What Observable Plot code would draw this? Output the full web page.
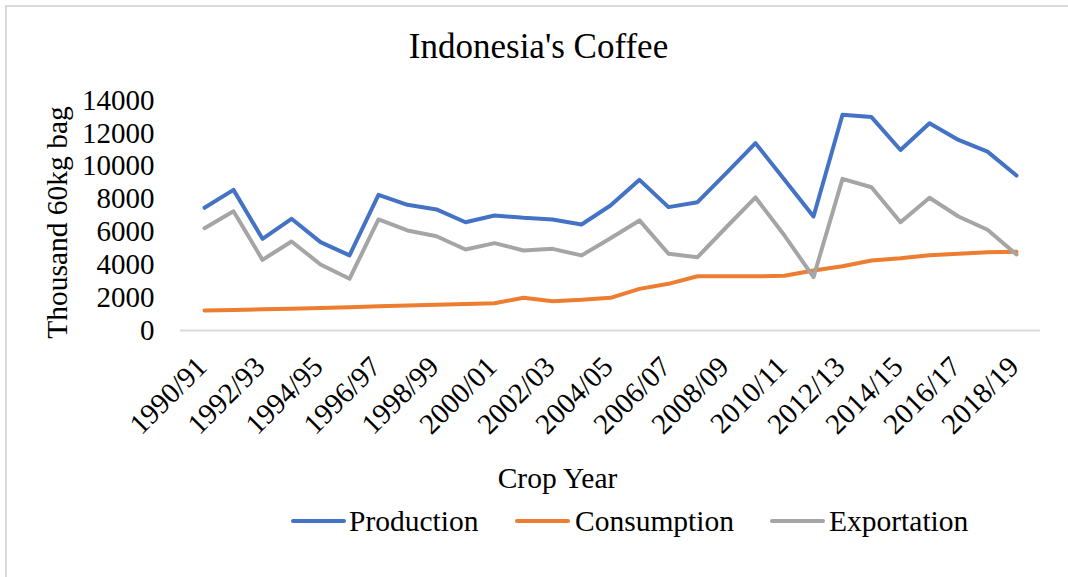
<!DOCTYPE html>
<html>
<head>
<meta charset="utf-8">
<script src="https://cdn.jsdelivr.net/npm/d3@7"></script>
<script src="https://cdn.jsdelivr.net/npm/@observablehq/plot@0.6"></script>
<style>
  html, body { margin: 0; padding: 0; background: #fff; }
  body { width: 1068px; height: 577px; overflow: hidden; position: relative; font-family: "Liberation Serif", "Times New Roman", serif; color: #000; }
  #frame { position: absolute; left: 5px; top: 5px; width: 1200px; height: 700px; border: 2px solid #d9d9d9; box-sizing: border-box; }
  #title { position: absolute; left: 0; top: 29px; width: 1077px; text-align: center; font-size: 35px; line-height: 35px; }
  #chart { position: absolute; left: 0; top: 80px; }
  .sw { position: absolute; height: 4px; border-radius: 2px; width: 55px; top: 519px; }
  .lt { position: absolute; top: 507px; font-size: 29.5px; line-height: 29.5px; white-space: nowrap; }
</style>
</head>
<body>
<div id="frame"></div>
<div id="title">Indonesia's Coffee</div>
<div id="chart"></div>
<div id="legend"></div>
<script>
const categories = ["1990/91","1991/92","1992/93","1993/94","1994/95","1995/96","1996/97","1997/98","1998/99","1999/00",
  "2000/01","2001/02","2002/03","2003/04","2004/05","2005/06","2006/07","2007/08","2008/09","2009/10",
  "2010/11","2011/12","2012/13","2013/14","2014/15","2015/16","2016/17","2017/18","2018/19"];
const production = [7470, 8560, 5580, 6800, 5380, 4570, 8260, 7650, 7370, 6590,
  7000, 6860, 6760, 6450, 7610, 9170, 7510, 7810, 9600, 11400,
  9180, 6940, 13130, 12990, 10990, 12620, 11600, 10890, 9430];
const consumption = [1215, 1250, 1290, 1330, 1370, 1420, 1480, 1520, 1560, 1610,
  1660, 1990, 1785, 1865, 1990, 2535, 2840, 3300, 3300, 3300,
  3330, 3650, 3915, 4260, 4400, 4585, 4665, 4765, 4790];
const exportation = [6230, 7260, 4300, 5420, 4020, 3150, 6760, 6090, 5740, 4930,
  5320, 4870, 4970, 4570, 5620, 6700, 4670, 4460, 6300, 8100,
  5780, 3250, 9230, 8720, 6590, 8080, 6940, 6130, 4630];
const seriesNames = ["Production", "Consumption", "Exportation"];
const seriesColors = ["#4472C4", "#ED7D31", "#A5A5A5"];
const tickLabels = ["1990/91","1992/93","1994/95","1996/97","1998/99","2000/01","2002/03","2004/05",
  "2006/07","2008/09","2010/11","2012/13","2014/15","2016/17","2018/19"];
const yTicks = [0, 2000, 4000, 6000, 8000, 10000, 12000, 14000];

const seriesValues = [production, consumption, exportation];
const data = [];
seriesNames.forEach((s, i) => {
  categories.forEach((c, j) => data.push({series: s, cat: c, value: seriesValues[i][j]}));
});

const chart = Plot.plot({
  width: 1068,
  height: 420,
  marginTop: 20,
  marginBottom: 170,
  marginLeft: 180,
  marginRight: 28,
  style: {fontFamily: "'Liberation Serif', 'Times New Roman', serif", fontSize: "29.5px", color: "#000", overflow: "visible", background: "transparent"},
  x: {type: "point", domain: categories, padding: 0.5, axis: null},
  y: {domain: [0, 14000], axis: null},
  color: {domain: seriesNames, range: seriesColors},
  marks: [
    Plot.ruleY([0], {stroke: "#d9d9d9", strokeWidth: 2}),
    Plot.axisY(yTicks, {tickSize: 0, tickPadding: 26, fontSize: 29, label: null, tickFormat: d => String(d)}),
    Plot.lineY(data, {x: "cat", y: "value", stroke: "series", z: "series", strokeWidth: 4, strokeLinecap: "round", strokeLinejoin: "round"}),
    Plot.text(tickLabels, {x: d => d, frameAnchor: "bottom", rotate: -45, textAnchor: "end", lineAnchor: "bottom", dx: 4, dy: 38, fontSize: 29}),
    Plot.text(["Crop Year"], {frameAnchor: "bottom", dx: -53, dy: 157, lineAnchor: "bottom", fontSize: 29.5}),
    Plot.text(["Thousand 60kg bag"], {frameAnchor: "left", textAnchor: "middle", lineAnchor: "middle", dx: -123, dy: 7, rotate: -90, fontSize: 29.5})
  ]
});
document.getElementById("chart").appendChild(chart);

const legend = document.getElementById("legend");
const swLeft = [291, 515, 770];
const txLeft = [349, 575, 829];
seriesNames.forEach((s, i) => {
  const sw = document.createElement("div");
  sw.className = "sw";
  sw.style.left = swLeft[i] + "px";
  sw.style.background = seriesColors[i];
  legend.appendChild(sw);
  const t = document.createElement("div");
  t.className = "lt";
  t.style.left = txLeft[i] + "px";
  t.textContent = s;
  legend.appendChild(t);
});
</script>
</body>
</html>
